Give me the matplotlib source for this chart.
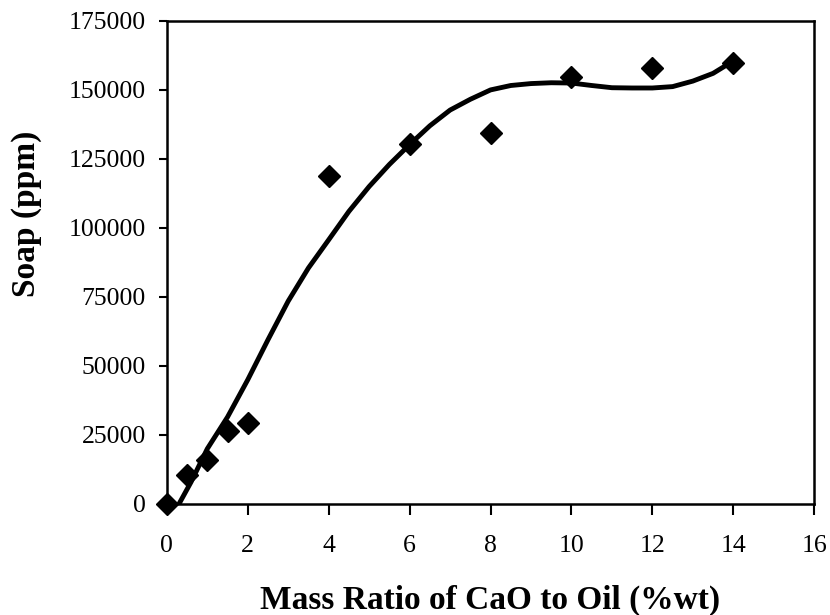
import matplotlib
matplotlib.use("Agg")
from matplotlib import pyplot as plt

# measured points (CaO %wt vs soap ppm)
cao = [0, 0.5, 1, 1.5, 2, 4, 6, 8, 10, 12, 14]
soap = [0, 10500, 15800, 26300, 29200, 118800, 130400, 134400, 154700, 158000, 159800]

# trend curve
curve_x = [0.3, 0.6, 1.0, 1.5, 2.0, 2.5, 3.0, 3.5, 4.0, 4.5, 5.0, 5.5, 6.0, 6.5, 7.0,
           7.5, 8.0, 8.5, 9.0, 9.5, 10.0, 10.5, 11.0, 11.5, 12.0, 12.5, 13.0, 13.5, 14.0]
curve_y = [0, 8000, 20000, 31500, 45000, 59500, 73500, 85500, 95700, 106000, 115000,
           123000, 130200, 137000, 142700, 146600, 150000, 151600, 152300, 152600, 152500,
           151600, 150800, 150700, 150700, 151200, 153200, 156000, 160500]

plt.rcParams['font.family'] = ['Liberation Serif', 'DejaVu Serif']

fig = plt.figure(figsize=(8.3, 6.15), dpi=100)
ax = fig.add_axes([0.201, 0.1805, 0.780, 0.7855])

ax.plot(curve_x, curve_y, 'k-', lw=3.5, solid_capstyle='round', zorder=2)
ax.plot(cao, soap, 'kD', ms=11.5, clip_on=False, zorder=3)

ax.set_xlim(0, 16)
ax.set_ylim(0, 175000)
ax.set_xticks(range(0, 17, 2))
ax.set_yticks(range(0, 175001, 25000))
ax.tick_params(axis='both', direction='out', width=1.5, labelsize=18.5)
ax.tick_params(axis='x', length=8, pad=14)
ax.tick_params(axis='y', length=6, pad=9)
for s in ax.spines.values():
    s.set_linewidth(1.8)

ax.set_xlabel("Mass Ratio of CaO to Oil (%wt)", fontsize=24, fontweight='bold')
ax.set_ylabel("Soap (ppm)", fontsize=24, fontweight='bold')
ax.xaxis.set_label_coords(0.5, -0.168)
ax.yaxis.set_label_coords(-0.193, 0.6)

fig.savefig("out.png", dpi=100)
